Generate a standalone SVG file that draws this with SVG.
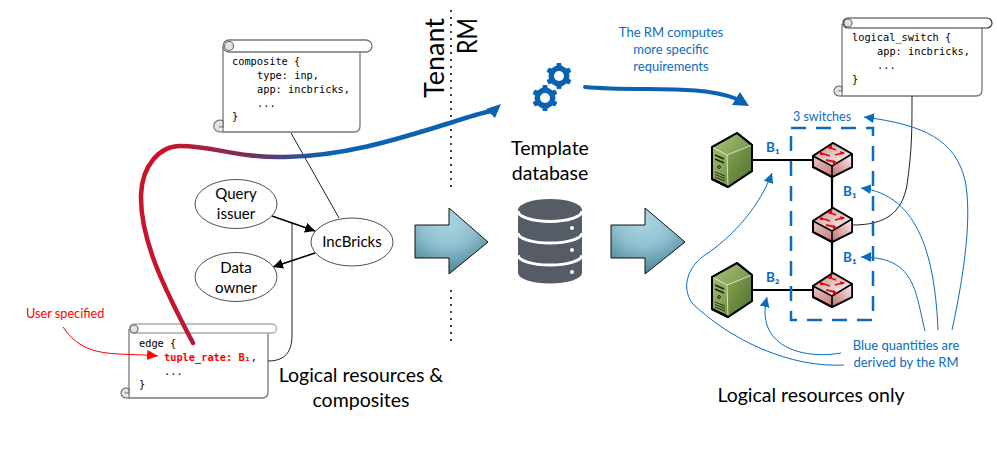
<svg xmlns="http://www.w3.org/2000/svg" xmlns:xlink="http://www.w3.org/1999/xlink" width="997" height="474" viewBox="0 0 997 474">
<style>
text{font-family:Lato,"Open Sans","Liberation Sans",sans-serif;fill:#000}
.code{font-family:"DejaVu Sans Mono","Liberation Mono",monospace;font-size:10.3px}
.blue{fill:#0b6cbf}
.big{font-size:19.500px;text-anchor:middle}
.side{font-size:27px;text-anchor:end}
.note{font-size:13px;text-anchor:middle;fill:#0b6cbf}
.node{font-size:15px;text-anchor:middle}
.q{font-size:13.5px;font-weight:700;fill:#0b6cbf}
.scroll{fill:#fff;stroke:#777;stroke-width:1.3}
.curl{fill:#e2e2e2;stroke:#666;stroke-width:1.1}
.ell{fill:#fff;stroke:#222;stroke-width:.8}
.thin{fill:none;stroke:#222;stroke-width:1}
.bl{fill:none;stroke:#0b6cbf;stroke-width:1;marker-end:url(#mb)}
.link{fill:none;stroke:#000;stroke-width:2.2}
.dot{fill:none;stroke:#000;stroke-width:2;stroke-dasharray:0 7;stroke-linecap:round}
.block{stroke:#111;stroke-width:1;fill:url(#bg)}
</style>
<defs>
<marker id="mb" markerUnits="userSpaceOnUse" markerWidth="12" markerHeight="10" refX="10" refY="5" orient="auto"><path d="M0 0L10 5L0 10Z" fill="#0b6cbf"/></marker>
<marker id="mr" markerUnits="userSpaceOnUse" markerWidth="14" markerHeight="10" refX="11" refY="5" orient="auto"><path d="M0 0L11 5L0 10Z" fill="#f00"/></marker>
<marker id="mk" markerUnits="userSpaceOnUse" markerWidth="12" markerHeight="10" refX="10" refY="5" orient="auto"><path d="M0 0L10 5L0 10Z" fill="#000"/></marker>
<linearGradient id="thick" gradientUnits="userSpaceOnUse" x1="170" y1="0" x2="330" y2="0"><stop offset="0" stop-color="#c8142b"/><stop offset=".5" stop-color="#71305f"/><stop offset="1" stop-color="#0b62b0"/></linearGradient>
<radialGradient id="bg" gradientUnits="objectBoundingBox" cx=".45" cy=".2" r=".85"><stop offset="0" stop-color="#aad6e2"/><stop offset=".45" stop-color="#90c0cf"/><stop offset="1" stop-color="#3f7d91"/></radialGradient>
<linearGradient id="srvL" x1="0" y1="0" x2="1" y2="1"><stop offset="0" stop-color="#a9c27a"/><stop offset="1" stop-color="#5f7f35"/></linearGradient>
<linearGradient id="srvR" x1="0" y1="0" x2="1" y2="1"><stop offset="0" stop-color="#86a554"/><stop offset="1" stop-color="#4f6e2c"/></linearGradient>
<linearGradient id="swT" x1="0" y1="0" x2="1" y2="1"><stop offset="0" stop-color="#c98d8a"/><stop offset="1" stop-color="#fff"/></linearGradient>
<linearGradient id="swL" x1="0" y1="0" x2="1" y2="1"><stop offset="0" stop-color="#f3dcda"/><stop offset="1" stop-color="#b5605c"/></linearGradient>
<linearGradient id="swR" x1="1" y1="0" x2="0" y2="1"><stop offset="0" stop-color="#fbeeee"/><stop offset="1" stop-color="#c0716c"/></linearGradient>
<g id="server">
<path d="M25 0L40 12V38L16 54L0 46V14Z" fill="url(#srvL)" stroke="#000" stroke-width="2" stroke-linejoin="round"/>
<path d="M15 22L40 12V38L16 54Z" fill="url(#srvR)"/>
<path d="M0 14L15 22L40 12M15 22L16 54" fill="none" stroke="#eef3d8" stroke-width=".8"/>
<path d="M25 0L40 12V38L16 54L0 46V14Z" fill="none" stroke="#000" stroke-width="2" stroke-linejoin="round"/>
<path d="M3 22L12 26M3 26L12 30" stroke="#1c2a10" stroke-width="1.6" fill="none"/>
<circle cx="7" cy="34" r="1.4" fill="none" stroke="#1c2a10"/>
<path d="M3 39L13 43M3 41.5L13 45.500M3 44L13 48" stroke="#1c2a10" stroke-width=".9" fill="none"/>
</g>
<g id="switch">
<path d="M20 0L39 11V24L19 34L0 24V13Z" fill="url(#swL)" stroke="#000" stroke-width="2" stroke-linejoin="round"/>
<path d="M19 23L39 11V24L19 34Z" fill="url(#swR)"/>
<path d="M20 0L39 11L19 23L0 13Z" fill="url(#swT)"/>
<path d="M20 0L39 11V24L19 34L0 24V13ZM0 13L19 23L39 11M19 23V34" fill="none" stroke="#000" stroke-width="1.6" stroke-linejoin="round"/>
<path d="M15 4L23 7M8 10L17 13M22 12L31 9.500M13 17L22 19" stroke="#d11" stroke-width="1.8" fill="none"/>
<path d="M19 1.500L14 5L19 6ZM7 8L7 12L11 12ZM32 10L27 8L28 12ZM25 20L20 17L20 22Z" fill="#e00"/>
</g>
<g id="gear" fill="#0b62b0">
<circle r="7.500" fill="none" stroke="#0b62b0" stroke-width="6"/>
<rect x="-2.500" y="-13" width="5" height="26" rx="1"/><rect x="-2.500" y="-13" width="5" height="26" rx="1" transform="rotate(60)"/><rect x="-2.500" y="-13" width="5" height="26" rx="1" transform="rotate(120)"/>
<circle r="5" fill="#fff"/>
</g>
</defs>
<rect width="997" height="474" fill="#fff"/>

<g id="divider">
<path class="dot" d="M451 11V191"/>
<path class="dot" d="M451 291V347"/>
<text class="side" transform="translate(444 18) rotate(-90)">Tenant</text>
<text class="side" transform="translate(477 18) rotate(-90)" textLength="36" lengthAdjust="spacingAndGlyphs">RM</text>
</g>

<g id="composite-spec">
<path class="scroll" d="M223 46V132H354Q360 132 360 126V50"/>
<path class="scroll" d="M229 40H366A6 6 0 0 1 366 52H229A6 6 0 0 1 229 40Z"/>
<circle class="curl" cx="229" cy="46" r="4.500"/>
<path class="curl" d="M223 132H220A6 6 0 1 1 223 121V127H219"/>
<text class="code" x="232" y="65">composite {</text>
<text class="code" x="257" y="79">type: inp,</text>
<text class="code" x="257" y="93">app: incbricks,</text>
<text class="code" x="257" y="107">...</text>
<text class="code" x="232" y="120">}</text>
</g>

<g id="logical-switch-spec">
<path class="scroll" d="M842 24V96H976Q982 96 982 90V26"/>
<path d="M848 18H987A5 5 0 0 1 987 28H848A5 5 0 0 1 848 18Z" fill="#fff" stroke="#333" stroke-width="1.200"/>
<circle class="curl" cx="848" cy="23" r="4"/>
<path class="curl" d="M842 96H839A5 5 0 1 1 842 87V91H838"/>
<text class="code" x="852" y="41">logical_switch {</text>
<text class="code" x="877" y="55">app: incbricks,</text>
<text class="code" x="877" y="69">...</text>
<text class="code" x="852" y="83">}</text>
</g>

<g id="edge-spec">
<path class="scroll" d="M129 329V398H262Q268 398 268 392V331"/>
<path d="M134 324H272A4.500 4.500 0 0 1 272 333H134A4.500 4.500 0 0 1 134 324Z" fill="#fff" stroke="#aaa" stroke-width="1.300"/>
<circle class="curl" cx="134" cy="329" r="4"/>
<path class="curl" d="M129 398H126A5 5 0 1 1 129 389V393H125"/>
<text class="code" x="139" y="347">edge {</text>
<text class="code" x="164" y="361"><tspan style="fill:#f00;font-weight:700">tuple_rate: B₁</tspan>,</text>
<text class="code" x="164" y="375">...</text>
<text class="code" x="139" y="388">}</text>
</g>

<g id="connectors">
<path class="thin" d="M291 133L339 218"/>
<path class="thin" d="M268 361C285 361 292 352 292 335V222"/>
<path class="thin" d="M912 96C912 130 912 150 907 185C902 213 885 225 853 225"/>
<path class="link" style="stroke-width:1.600;marker-end:url(#mk)" d="M272 216L315 231"/>
<path class="link" style="stroke-width:1.600;marker-end:url(#mk)" d="M315 253L273 267"/>
<path class="link" d="M752 160H814"/>
<path class="link" d="M752 290H814"/>
<path class="link" d="M832 177V208"/>
<path class="link" d="M832 242V273"/>
<path class="bl" d="M952 330C965 270 972 215 965 180C955 140 925 125 864 117"/>
<path class="bl" d="M938 330C935 260 920 195 861 188"/>
<path class="bl" d="M925 331C915 290 915 257 861 257"/>
<path class="bl" d="M841 353C800 360 755 345 767 297"/>
<path class="bl" d="M844 365C790 368 730 340 692 303C680 285 690 265 705 255C735 235 760 205 772 173"/>
<path d="M63 327C85 360 115 352 158 356" fill="none" stroke="#f00" stroke-width="1" marker-end="url(#mr)"/>
<path d="M193 343C165 290 140 240 141 195C142 165 160 146 180 146C215 146 235 158 285 157C350 156 410 135 450 123C465 118 480 113 492 111" fill="none" stroke="url(#thick)" stroke-width="4.500" stroke-linecap="round"/>
<path d="M501 104L486 109L495 118Z" fill="#0b62b0"/>
<path d="M585 87C640 92 700 84 737 99" fill="none" stroke="#0b62b0" stroke-width="4" stroke-linecap="round"/>
<path d="M749 106L732 105L740 92Z" fill="#0b62b0"/>
</g>

<g id="user-specified"><text x="26" y="318" font-size="12.700" style="fill:#f00">User specified</text></g>

<g id="query-issuer"><ellipse class="ell" cx="236" cy="204" rx="41" ry="24.500"/><text class="node" x="236" y="199">Query</text><text class="node" x="236" y="219">issuer</text></g>
<g id="data-owner"><ellipse class="ell" cx="236" cy="277" rx="41" ry="24.500"/><text class="node" x="236" y="273">Data</text><text class="node" x="236" y="293">owner</text></g>
<g id="incbricks"><ellipse class="ell" cx="352" cy="242" rx="41" ry="24"/><text class="node" x="352" y="247">IncBricks</text></g>

<g id="arrow-left"><path class="block" d="M415 225H449V208L488 242L449 274V258H415Z"/></g>
<g id="arrow-right"><path class="block" d="M611 225H645V208L685 242L645 274V258H611Z"/></g>

<g id="gears"><use href="#gear" x="559" y="76"/><use href="#gear" x="545" y="98"/></g>

<g id="database">
<path d="M518 210A32 11 0 0 1 582 210V273A32 10.500 0 0 1 518 273Z" fill="#555c66"/>
<path d="M518 211A32 10.500 0 0 0 582 211M518 233A32 10 0 0 0 582 233M518 255A32 10 0 0 0 582 255" fill="none" stroke="#fff" stroke-width="3"/>
<circle cx="572" cy="228" r="2" fill="#fff"/><circle cx="572" cy="250" r="2" fill="#fff"/><circle cx="572" cy="272" r="2" fill="#fff"/>
</g>
<text class="big" x="550" y="155">Template</text>
<text class="big" x="550" y="180">database</text>

<g id="switch-group"><rect x="791" y="128" width="82" height="192" fill="none" stroke="#0b6cbf" stroke-width="2.500" stroke-dasharray="15 10"/></g>
<g id="server-1"><use href="#server" x="712" y="133"/></g>
<g id="server-2"><use href="#server" x="712" y="263"/></g>
<g id="switch-1"><use href="#switch" x="813" y="143"/></g>
<g id="switch-2"><use href="#switch" x="813" y="208"/></g>
<g id="switch-3"><use href="#switch" x="813" y="273"/></g>

<text class="q" x="766" y="152">B₁</text>
<text class="q" x="843" y="196">B₁</text>
<text class="q" x="843" y="262">B₁</text>
<text class="q" x="766" y="282">B₂</text>
<text x="793" y="121" font-size="12.500" class="blue">3 switches</text>
<text class="note" x="671" y="37">The RM computes</text>
<text class="note" x="671" y="54">more specific</text>
<text class="note" x="671" y="71">requirements</text>
<text class="note" x="906" y="350">Blue quantities are</text>
<text class="note" x="906" y="367">derived by the RM</text>
<text class="big" x="361" y="382">Logical resources &amp;</text>
<text class="big" x="361" y="407">composites</text>
<text class="big" x="811" y="402">Logical resources only</text>
</svg>
